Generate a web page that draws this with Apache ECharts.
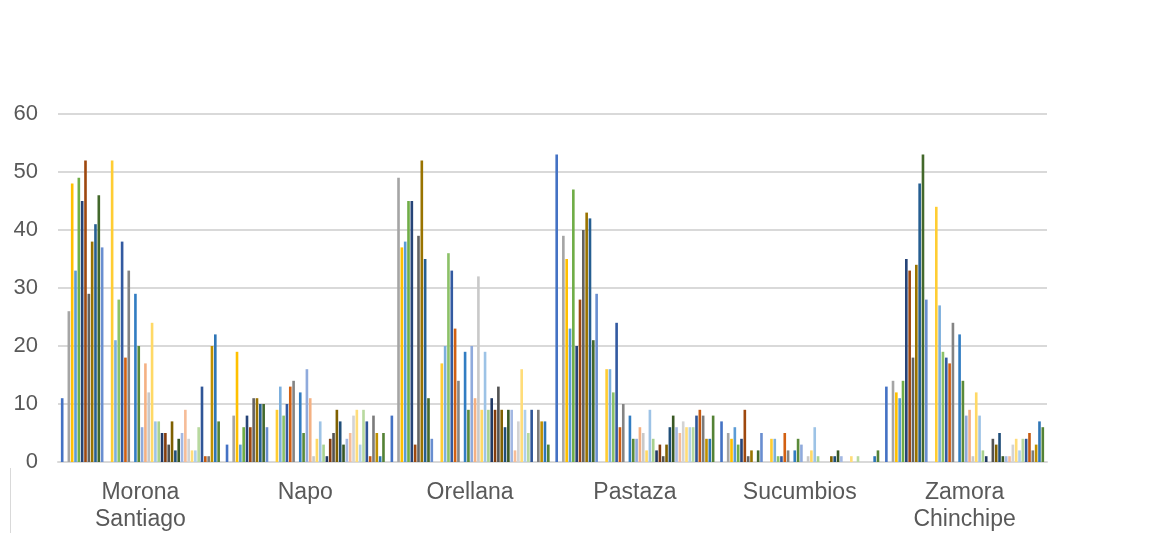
<!DOCTYPE html>
<html>
<head>
<meta charset="utf-8">
<script src="https://cdn.jsdelivr.net/npm/echarts@6/dist/echarts.min.js"></script>
<style>
  html, body { margin: 0; padding: 0; background: #ffffff; }
  #chart { width: 1152px; height: 533px; }
</style>
</head>
<body>
<div id="chart"></div>
<script>
// Provinces on the category axis
const provinces = ['Morona Santiago', 'Napo', 'Orellana', 'Pastaza', 'Sucumbios', 'Zamora Chinchipe'];

// 48 series values per province (series 1..48 in order)
const moronaSantiago  = [11,0,26,48,33,49,45,52,29,38,41,46, 37,0,0,52,21,28,38,18,33,0,29,20, 6,17,12,24,7,7,5,5,3,7,2,4, 5,9,4,2,2,6,13,1,1,20,22,7];
const napo            = [3,0,8,19,3,6,8,6,11,11,10,10, 6,0,0,9,13,8,10,13,14,0,12,5, 16,11,1,4,7,3,1,4,5,9,7,3, 4,5,8,9,3,9,7,1,8,5,1,5];
const orellana        = [8,0,49,37,38,45,45,3,39,52,35,11, 4,0,0,17,20,36,33,23,14,0,19,9, 20,11,32,9,19,9,11,9,13,9,6,9, 9,2,7,16,9,5,9,0,9,7,7,3];
const pastaza         = [53,0,39,35,23,47,20,28,40,43,42,21, 29,0,0,16,16,12,24,6,10,0,8,4, 4,6,5,2,9,4,2,3,1,3,6,8, 6,5,7,6,6,6,8,9,8,4,4,8];
const sucumbios       = [7,0,5,4,6,3,4,9,1,2,0,2, 5,0,0,4,4,1,1,5,2,0,2,4, 3,0,1,2,6,1,0,0,0,1,1,2, 1,0,0,1,0,1,0,0,0,0,1,2];
const zamoraChinchipe = [13,0,14,12,11,14,35,33,18,34,48,53, 28,0,0,44,27,19,18,17,24,0,22,14, 8,9,1,12,8,2,1,0,4,3,5,1, 1,1,3,4,2,4,4,5,2,3,7,6];

// Y axis ticks
const yMin = 0, yMax = 60, yStep = 10;

// Office-style series palette
const palette = [
  '#4472C4','#ED7D31','#A5A5A5','#FFC000','#5B9BD5','#70AD47',
  '#264478','#9E480E','#636363','#997300','#255E91','#43682B',
  '#698ED0','#F1975A','#B7B7B7','#FFCD33','#7CAFDD','#8CC168',
  '#335AA1','#D26012','#848484','#CC9A00','#327DC2','#5A8A39',
  '#8FAADC','#F4B183','#C9C9C9','#FFD966','#9DC3E6','#A9D18E',
  '#203864','#843C0C','#525252','#7F6000','#1F4E79','#385723',
  '#A3B8E3','#F6BD98','#D3D3D3','#FFDD7A','#AFCFEB','#B8D99F',
  '#2F5597','#C55A11','#7B7B7B','#BF9000','#2E75B6','#548235'
];

const byProvince = [moronaSantiago, napo, orellana, pastaza, sucumbios, zamoraChinchipe];
const seriesCount = moronaSantiago.length;

const series = [];
for (let s = 0; s < seriesCount; s++) {
  series.push({
    name: 'Serie ' + (s + 1),
    type: 'bar',
    data: byProvince.map(arr => arr[s]),
    itemStyle: { color: palette[s % palette.length] },
    barGap: '27%',
    barCategoryGap: '3.5%',
    emphasis: { disabled: true }
  });
}

const labelFont = 'Liberation Sans, Arial, sans-serif';

const chart = echarts.init(document.getElementById('chart'), null, { renderer: 'canvas' });
chart.setOption({
  animation: false,
  backgroundColor: '#ffffff',
  grid: { left: 58, right: 105, top: 114, bottom: 71, containLabel: false },
  xAxis: {
    type: 'category',
    data: provinces,
    axisLine: { lineStyle: { color: '#D9D9D9', width: 2 } },
    axisTick: { show: false },
    axisLabel: {
      color: '#595959',
      fontFamily: labelFont,
      fontSize: 23,
      lineHeight: 27,
      margin: 17,
      interval: 0,
      formatter: v => v.replace(' ', '\n')
    }
  },
  yAxis: {
    type: 'value',
    min: yMin,
    max: yMax,
    interval: yStep,
    axisLine: { show: false },
    axisTick: { show: false },
    splitLine: { lineStyle: { color: '#D9D9D9', width: 2 } },
    axisLabel: {
      color: '#595959',
      fontFamily: labelFont,
      fontSize: 22,
      margin: 20
    }
  },
  graphic: [{
    type: 'line',
    shape: { x1: 10.5, y1: 468, x2: 10.5, y2: 533 },
    style: { stroke: '#D9D9D9', lineWidth: 1 }
  }],
  series: series
});
</script>
</body>
</html>
